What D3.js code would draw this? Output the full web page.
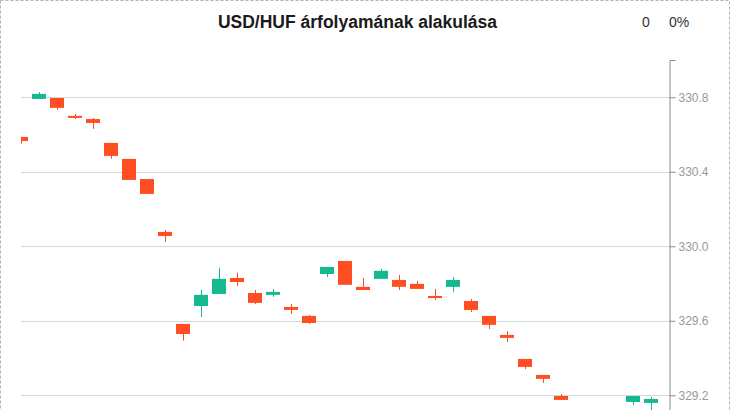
<!DOCTYPE html>
<html>
<head>
<meta charset="utf-8">
<script src="https://cdn.jsdelivr.net/npm/d3@7"></script>
<style>
  html, body { margin: 0; padding: 0; background: #fff; overflow: hidden; }
  svg { display: block; font-family: "Liberation Sans", Arial, sans-serif; }
</style>
</head>
<body>
<svg id="chart" width="730" height="410"></svg>
<script>
// ---- data ----
const days = d3.range(1, 37).map(d => "Nap " + d);
const openVals  = [330.587,330.791,330.796,330.700,330.683,330.555,330.469,330.361,330.077,329.583,
                   329.679,329.744,329.830,329.749,329.739,329.674,329.626,329.851,329.921,329.782,
                   329.825,329.819,329.798,329.733,329.782,329.706,329.626,329.524,329.395,329.309,
                   329.196,329.090,329.040,329.020,329.164,329.159];
const highVals  = [330.587,330.828,330.796,330.710,330.689,330.555,330.469,330.361,330.087,329.583,
                   329.765,329.884,329.857,329.765,329.771,329.690,329.631,329.889,329.921,329.830,
                   329.878,329.846,329.814,329.771,329.835,329.717,329.626,329.545,329.395,329.309,
                   329.207,329.100,329.060,329.080,329.196,329.191];
const lowVals   = [330.551,330.791,330.732,330.683,330.630,330.469,330.356,330.281,330.023,329.493,
                   329.620,329.744,329.787,329.690,329.728,329.636,329.583,329.835,329.793,329.765,
                   329.825,329.765,329.771,329.712,329.755,329.647,329.556,329.486,329.341,329.266,
                   329.175,329.030,328.990,329.000,329.148,329.100];
const closeVals = [330.565,330.818,330.743,330.689,330.662,330.485,330.356,330.281,330.055,329.529,
                   329.739,329.825,329.808,329.696,329.755,329.658,329.588,329.889,329.793,329.765,
                   329.868,329.782,329.771,329.722,329.819,329.658,329.578,329.508,329.352,329.288,
                   329.175,329.050,329.010,329.070,329.196,329.180];
const yTickValues = [329.2, 329.6, 330.0, 330.4, 330.8];
const titleText = "USD/HUF árfolyamának alakulása";
const changeAbs = "0";
const changePct = "0%";

const candles = days.map((d, i) => ({
  day: d, i, open: openVals[i], high: highVals[i], low: lowVals[i], close: closeVals[i]
}));

// ---- layout ----
const svg = d3.select("#chart");
const W = 730, H = 410;
const plotLeft = 21, plotRight = 669, plotTop = 60, plotBottom = 469.75;
const upColor = "#14b891", downColor = "#ff4f22";

// dashed frame
svg.append("rect")
  .attr("x", 0.5).attr("y", 0.5).attr("width", W - 1).attr("height", 480)
  .attr("fill", "none").attr("stroke", "#b3b3b3").attr("stroke-dasharray", "3,2");

const x = d3.scaleLinear().domain([0, days.length]).range([plotLeft, plotRight]);
const y = d3.scaleLinear().domain([331.0, 328.8]).range([plotTop, plotBottom]);

svg.append("defs").append("clipPath").attr("id", "clip")
  .append("rect").attr("x", plotLeft).attr("y", plotTop)
  .attr("width", plotRight - plotLeft).attr("height", plotBottom - plotTop);

// grid
svg.append("g").selectAll("line").data(yTickValues).join("line")
  .attr("x1", plotLeft).attr("x2", plotRight)
  .attr("y1", d => Math.round(y(d)) + 0.5).attr("y2", d => Math.round(y(d)) + 0.5)
  .attr("stroke", "#d4d6d9").attr("stroke-width", 1);

// candles
const g = svg.append("g").attr("clip-path", "url(#clip)");
const bodyW = 14;
const cg = g.selectAll("g.c").data(candles).join("g").attr("class", "c");
cg.append("line")
  .attr("x1", d => x(d.i) + 0.5).attr("x2", d => x(d.i) + 0.5)
  .attr("y1", d => y(d.high)).attr("y2", d => y(d.low))
  .attr("stroke", d => d.close >= d.open ? upColor : downColor).attr("stroke-width", 1);
cg.append("rect")
  .attr("x", d => x(d.i) - bodyW / 2).attr("width", bodyW)
  .attr("y", d => y(Math.max(d.open, d.close)))
  .attr("height", d => Math.max(1, Math.abs(y(d.open) - y(d.close))))
  .attr("fill", d => d.close >= d.open ? upColor : downColor);

// right axis
const axis = d3.axisRight(y).tickValues(yTickValues).tickFormat(d3.format(".1f"))
  .tickSize(6).tickSizeOuter(6).tickPadding(3);
const ag = svg.append("g").attr("transform", `translate(${plotRight + 0.5},0)`).call(axis);
ag.select(".domain").attr("stroke", "#8a8a8a");
ag.selectAll(".tick line").attr("stroke", "#8a8a8a");
ag.selectAll(".tick text").attr("fill", "#969a9f").attr("font-size", 12)
  .attr("font-family", "'Liberation Sans', Arial, sans-serif");

// title and change indicators
svg.append("text").attr("x", 357.5).attr("y", 28).attr("text-anchor", "middle")
  .attr("font-size", 17.5).attr("font-weight", "bold").attr("fill", "#1a1a1a").text(titleText);
svg.append("text").attr("x", 642).attr("y", 27).attr("font-size", 14).attr("fill", "#333").text(changeAbs);
svg.append("text").attr("x", 669).attr("y", 27).attr("font-size", 14).attr("fill", "#333").text(changePct);
</script>
</body>
</html>
